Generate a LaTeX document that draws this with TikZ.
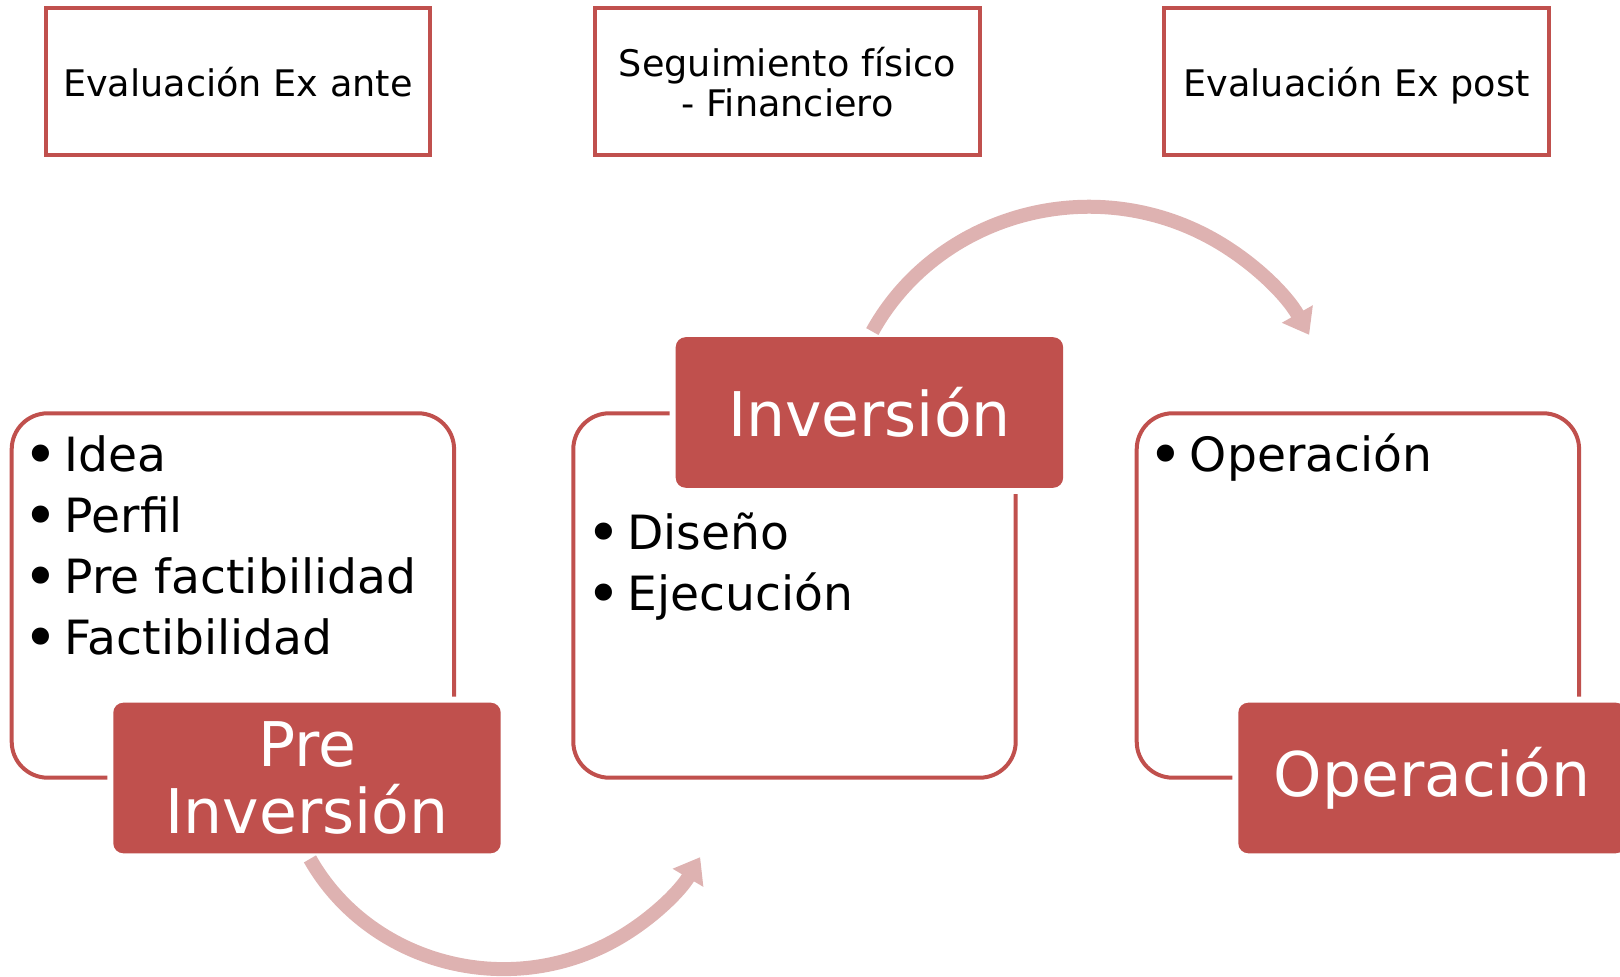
\documentclass[tikz,border=0pt]{standalone}
\usepackage{fontspec}
\setmainfont{DejaVu Sans}
\usepackage{tikz}
\usetikzlibrary{arrows.meta}

\definecolor{boxred}{HTML}{C0504D}
\definecolor{flowpink}{RGB}{222,178,177}

\newcommand{\bul}{\makebox[20.75pt][l]{\raisebox{-2pt}{\scalebox{1.25}{•}}}}

\tikzset{
  phase/.style={draw=boxred, line width=2pt, rounded corners=18pt,
    minimum width=221.2pt, minimum height=182.2pt, inner sep=0pt},
  stage/.style={fill=boxred, text=white, rounded corners=5pt,
    minimum width=193.7pt, minimum height=75.3pt, inner sep=0pt, align=center,
    font=\fontsize{30.8}{33.5}\selectfont, preaction={draw=white, line width=6pt}},
  evalbox/.style={draw=boxred, line width=2pt, minimum width=192.25pt,
    minimum height=73.35pt, inner sep=0pt, align=center,
    font=\fontsize{18.3}{20}\selectfont},
  listitem/.style={anchor=base west, inner sep=0pt, font=\fontsize{23.6}{29}\selectfont},
  flow/.style={draw=flowpink, line width=7pt, shorten <=3pt,
    -{Triangle[width=17pt,length=12pt]}}
}

\begin{document}
\begin{tikzpicture}[x=0.5pt, y=0.5pt]
  \useasboundingbox (0,0) rectangle (1620,977);
  % phase frames
  \node[phase] (prebox) at (232.9,381.5) {};
  \node[phase] (invbox) at (794.5,381.5) {};
  \node[phase] (opbox) at (1357.9,381.5) {};
  % phase titles
  \node[stage] (pre) at (307,199) {Pre\\Inversión};
  \node[stage] (inv) at (869.4,564.5) {Inversión};
  \node[stage] (op) at (1432,199) {Operación};
  % flow arrows
  \draw[flow] (pre.south) arc[start angle=209.5, end angle=329.5, radius=227];
  \draw[flow] (inv.north) arc[start angle=151, end angle=29.5, radius=252];
  % contents
  \node[listitem] (idea) at (23,505.3) {\bul Idea};
  \node[listitem] (perfil) at (23,444.3) {\bul Perfil};
  \node[listitem] (prefact) at (23,383.3) {\bul Pre factibilidad};
  \node[listitem] (fact) at (23,322.3) {\bul Factibilidad};
  \node[listitem] (diseno) at (585.6,427.7) {\bul Diseño};
  \node[listitem] (ejec) at (585.6,366.7) {\bul Ejecución};
  \node[listitem] (oper) at (1148,505.3) {\bul Operación};
  % evaluation boxes
  \node[evalbox] (exante) at (237.9,895.3) {Evaluación Ex ante};
  \node[evalbox] (seguim) at (787.5,895.3) {Seguimiento físico\\- Financiero};
  \node[evalbox, text depth=0pt] (expost) at (1356.5,895.3) {Evaluación Ex post};
\end{tikzpicture}
\end{document}
